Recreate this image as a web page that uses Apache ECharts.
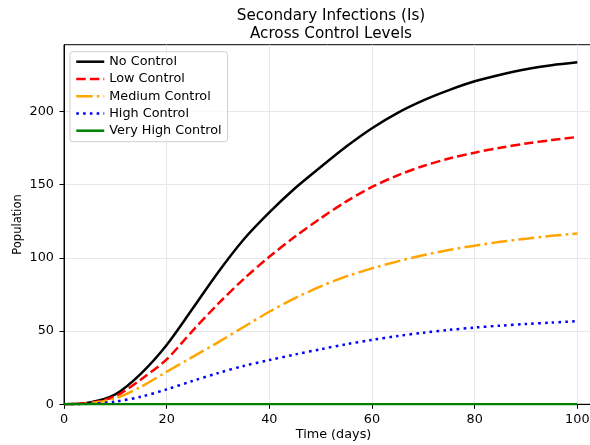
<!DOCTYPE html>
<html>
<head>
<meta charset="utf-8">
<script src="https://cdn.jsdelivr.net/npm/echarts@6/dist/echarts.min.js"></script>
<style>
  html, body { margin: 0; padding: 0; background: #ffffff; }
  #chart { width: 590px; height: 445px; }
</style>
</head>
<body>
<div id="chart"></div>
<script>
// Simulated secondary infections (Is) over 100 days, sampled every 5 days
const days = [0, 5, 10, 15, 20, 25, 30, 35, 40, 45, 50, 55, 60, 65, 70, 75, 80, 85, 90, 95, 100];
const noControl = [0, 1.2, 6.8, 21, 40.5, 65, 90, 112.5, 131, 147.5, 162, 176, 188.5, 199, 207.5, 214.5, 220.5, 225, 228.8, 231.5, 233.5];
const lowControl = [0, 1, 5.5, 17, 30.7, 50, 68.5, 85.5, 100.7, 114.5, 127, 138.5, 148.4, 156.3, 162.7, 167.8, 171.8, 175.2, 178, 180.4, 182.5];
const mediumControl = [0, 0.7, 4, 12, 22.2, 32.2, 42.3, 52.8, 63.2, 72.5, 80.5, 87.3, 92.8, 97.6, 101.8, 105.3, 108.3, 110.9, 113.1, 115, 116.6];
const highControl = [0, 0.3, 1.8, 5.2, 10.2, 15.9, 21.3, 26.2, 30.2, 34, 37.6, 41, 44, 46.6, 48.9, 50.8, 52.4, 53.7, 54.8, 55.8, 56.8];
const veryHighControl = [0, 0, 0, 0, 0, 0, 0, 0, 0, 0, 0, 0, 0, 0, 0, 0, 0, 0, 0, 0, 0];

const seriesNames = ['No Control', 'Low Control', 'Medium Control', 'High Control', 'Very High Control'];
const seriesValues = [noControl, lowControl, mediumControl, highControl, veryHighControl];
const xTicks = [0, 20, 40, 60, 80, 100];
const yTicks = [0, 50, 100, 150, 200];

const lineColors = ['#000000', '#ff0000', '#ffa500', '#0000ff', '#008000'];
const lineDashes = ['solid', [9.5, 4.1], [16.4, 4.1, 2.6, 4.1], [2.6, 4.2], 'solid'];

const FONT = 'DejaVu Sans';
const chart = echarts.init(document.getElementById('chart'), null, { renderer: 'canvas' });

const series = seriesNames.map((name, i) => ({
  name: name,
  type: 'line',
  data: days.map((d, j) => [d, seriesValues[i][j]]),
  symbol: 'none',
  smooth: 0.3,
  animation: false,
  lineStyle: { color: lineColors[i], width: 2.5, type: lineDashes[i] },
  itemStyle: { color: lineColors[i] }
}));

chart.setOption({
  animation: false,
  backgroundColor: '#ffffff',
  title: {
    text: 'Secondary Infections (Is)\nAcross Control Levels',
    left: 326,
    textAlign: 'center',
    top: 2.5,
    textStyle: { fontFamily: FONT, fontSize: 15.2, fontWeight: 'normal', color: '#000', lineHeight: 17.5 }
  },
  legend: {
    orient: 'vertical',
    left: 70,
    top: 51.7,
    padding: [3, 6, 4, 5],
    itemWidth: 28,
    itemHeight: 14,
    itemGap: 3.25,
    borderColor: '#d0d0d0',
    borderWidth: 1,
    borderRadius: 3,
    backgroundColor: 'rgba(255,255,255,0.8)',
    textStyle: { fontFamily: FONT, fontSize: 12.8, color: '#000', lineHeight: 14 },
    data: seriesNames.map((n, i) => ({
      name: n,
      itemStyle: { opacity: 0 },
      lineStyle: { color: lineColors[i], width: 2.5, type: lineDashes[i] }
    }))
  },
  grid: {
    left: 64,
    top: 44.7,
    width: 539,
    bottom: 40.7,
    outerBoundsMode: 'none',
    show: true,
    borderColor: '#000',
    borderWidth: 1,
    backgroundColor: 'transparent'
  },
  xAxis: {
    type: 'value',
    min: 0,
    max: 105,
    interval: 20,
    name: 'Time (days)',
    nameLocation: 'middle',
    nameGap: 24,
    nameMoveOverlap: false,
    nameTextStyle: { fontFamily: FONT, fontSize: 12.8, color: '#000' },
    axisLine: { show: true, lineStyle: { color: '#000', width: 1 } },
    axisTick: { show: true, inside: false, length: 4.5, customValues: xTicks, lineStyle: { color: '#000', width: 1 } },
    axisLabel: { fontFamily: FONT, fontSize: 12.8, color: '#000', margin: 9, customValues: xTicks },
    splitLine: { show: true, lineStyle: { color: '#e7e7e7', width: 1 } }
  },
  yAxis: {
    type: 'value',
    min: 0,
    max: 245.5,
    interval: 50,
    name: 'Population',
    nameLocation: 'middle',
    nameGap: 40,
    nameMoveOverlap: false,
    nameTextStyle: { fontFamily: FONT, fontSize: 11.5, color: '#000' },
    axisLine: { show: true, lineStyle: { color: '#000', width: 1 } },
    axisTick: { show: true, inside: false, length: 4.5, customValues: yTicks, lineStyle: { color: '#000', width: 1 } },
    axisLabel: { fontFamily: FONT, fontSize: 12.8, color: '#000', margin: 10, customValues: yTicks },
    splitLine: { show: true, lineStyle: { color: '#e7e7e7', width: 1 } }
  },
  series: series
});
</script>
</body>
</html>
